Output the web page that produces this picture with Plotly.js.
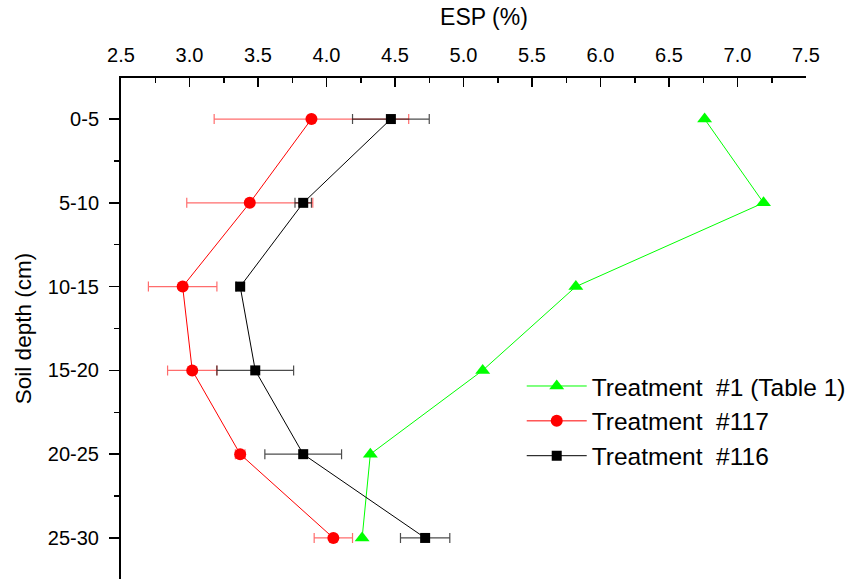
<!DOCTYPE html>
<html><head><meta charset="utf-8">
<script src="https://cdn.plot.ly/plotly-3.0.1.min.js"></script>
<style>body{margin:0;background:#fff}#c{width:854px;height:579px}</style>
</head><body><div id="c"></div>
<script>
const categories = ["0-5", "5-10", "10-15", "15-20", "20-25", "25-30"];
const t1_esp   = [6.76, 7.19, 5.82, 5.14, 4.32, 4.26];
const t117_esp = [3.89, 3.44, 2.95, 3.02, 3.37, 4.05];
const t117_err = [0.71, 0.46, 0.25, 0.18, 0.035, 0.14];
const t116_esp = [4.47, 3.83, 3.37, 3.48, 3.83, 4.72];
const t116_err = [0.28, 0.06, 0.03, 0.28, 0.28, 0.18];
const seriesNames = ["Treatment\u00a0 #1 (Table 1)", "Treatment\u00a0 #117", "Treatment\u00a0 #116"];

const yIdx = categories.map((c, i) => i);
const F = "Liberation Sans, Arial, sans-serif";

const traces = [
  {x: t1_esp, y: yIdx, name: seriesNames[0], mode: "lines+markers",
   line: {color: "#00ff00", width: 1},
   marker: {symbol: "triangle-up", size: 13, color: "#00ff00"}},
  {x: t117_esp, y: yIdx, name: seriesNames[1], mode: "lines+markers",
   line: {color: "#ff0000", width: 1},
   marker: {symbol: "circle", size: 12, color: "#ff0000"},
   error_x: {type: "data", array: t117_err, visible: true, color: "rgba(255,60,60,0.75)", thickness: 1.2, width: 5}},
  {x: t116_esp, y: yIdx, name: seriesNames[2], mode: "lines+markers",
   line: {color: "#000000", width: 1},
   marker: {symbol: "square", size: 10, color: "#000000"},
   error_x: {type: "data", array: t116_err, visible: true, color: "rgba(0,0,0,0.7)", thickness: 1.2, width: 5}}
];

const minorY = [];
for (let i = 0; i <= categories.length; i++) minorY.push(i - 0.5);

const layout = {
  width: 854, height: 579,
  margin: {l: 121, r: 48, t: 78, b: 0},
  paper_bgcolor: "#fff", plot_bgcolor: "#fff",
  font: {family: F, color: "#000", size: 20},
  showlegend: true,
  title: {text: "ESP (%)", font: {family: F, size: 23, color: "#000"},
          x: 484 / 854, xanchor: "center", xref: "container",
          y: 1 - 9 / 579, yanchor: "top", yref: "container"},
  legend: {x: 0.585, y: 0.43, xanchor: "left", yanchor: "top",
           font: {family: F, size: 24.5, color: "#000"}, bgcolor: "rgba(0,0,0,0)",
           itemwidth: 60, tracegroupgap: 0},
  xaxis: {
    side: "top", range: [2.5, 7.5], tick0: 2.5, dtick: 0.5, tickformat: ".1f",
    ticks: "inside", ticklen: 9, tickwidth: 1.5, tickcolor: "#000",
    minor: {dtick: 0.25, ticks: "inside", ticklen: 5, tickwidth: 1.5, tickcolor: "#000"},
    showline: true, linewidth: 2, linecolor: "#000", showgrid: false, zeroline: false,
    tickfont: {family: F, size: 20}, ticklabelstandoff: 6
  },
  yaxis: {
    range: [5.49, -0.49], tickmode: "array", tickvals: yIdx, ticktext: categories,
    ticks: "outside", ticklen: 10, tickwidth: 1.5, tickcolor: "#000",
    minor: {tickmode: "array", tickvals: minorY, ticks: "outside", ticklen: 5, tickwidth: 1.5, tickcolor: "#000"},
    showline: true, linewidth: 2, linecolor: "#000", showgrid: false, zeroline: false,
    tickfont: {family: F, size: 20}, ticklabelstandoff: 6,
    title: {text: "Soil depth (cm)", font: {family: F, size: 22.5}, standoff: 10}
  }
};

Plotly.newPlot("c", traces, layout, {staticPlot: true, displayModeBar: false});
</script></body></html>
